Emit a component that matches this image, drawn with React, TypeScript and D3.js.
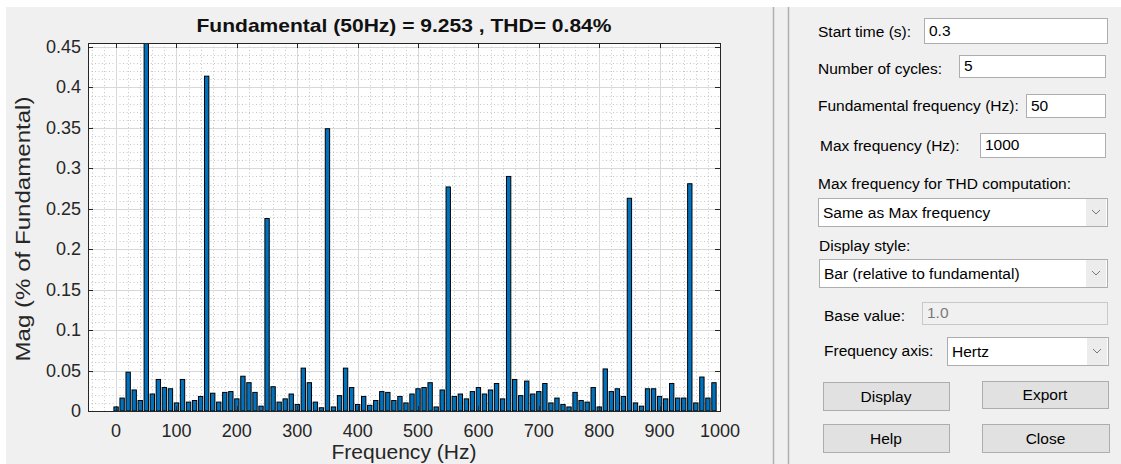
import React from 'react';
import * as d3 from 'd3';

// spectrum bins, 10 Hz apart, 0 .. 990 Hz (fundamental at 50 Hz = 100 %)
const binHz = 10;
const magnitudes = [
  0.005, 0.016, 0.048, 0.026, 0.013, 100, 0.021, 0.039, 0.029, 0.0275,
  0.010, 0.039, 0.011, 0.013, 0.018, 0.414, 0.022, 0.011, 0.023, 0.024,
  0.015, 0.043, 0.035, 0.023, 0.006, 0.238, 0.030, 0.011, 0.015, 0.021,
  0.008, 0.053, 0.035, 0.011, 0.004, 0.349, 0.005, 0.019, 0.053, 0.029,
  0.008, 0.018, 0.007, 0.013, 0.024, 0.023, 0.013, 0.018, 0.010, 0.021,
  0.0275, 0.029, 0.035, 0.005, 0.026, 0.277, 0.018, 0.021, 0.015, 0.024,
  0.029, 0.021, 0.026, 0.034, 0.015, 0.290, 0.039, 0.019, 0.037, 0.021,
  0.024, 0.034, 0.010, 0.016, 0.008, 0.005, 0.023, 0.013, 0.011, 0.029,
  0.005, 0.052, 0.024, 0.0275, 0.018, 0.263, 0.010, 0.006, 0.0275, 0.0275,
  0.018, 0.015, 0.034, 0.016, 0.016, 0.281, 0.010, 0.042, 0.016, 0.035
];
const xTicks = [0, 100, 200, 300, 400, 500, 600, 700, 800, 900, 1000];
const yTicks = [0, 0.05, 0.1, 0.15, 0.2, 0.25, 0.3, 0.35, 0.4, 0.45];
const title = 'Fundamental (50Hz) = 9.253 , THD= 0.84%';

const W = 1121, H = 464;
const plot = { left: 88, right: 720, top: 43, bottom: 411 };
const axisFont = '"Liberation Sans", Arial, sans-serif';
const uiFont = '"Liberation Sans", Arial, sans-serif';
const ink = '#262626';
const uiSize = 15.5;

function TextBox({ x, y, w, h, value, disabled }: any) {
  return (
    <g>
      <rect x={x + 0.5} y={y + 0.5} width={w} height={h} fill={disabled ? '#f0f0f0' : '#fff'} stroke={disabled ? '#c8c8c8' : '#adadad'} />
      <text x={x + 5} y={y + h / 2 + 5} fontSize={uiSize} fill={disabled ? '#7a7a7a' : '#000'}>{value}</text>
    </g>
  );
}

function DropDown({ x, y, w, h, value }: any) {
  const ax = x + w - 21;
  const cy = y + h / 2;
  return (
    <g>
      <rect x={x + 0.5} y={y + 0.5} width={w} height={h} fill="#fff" stroke="#adadad" />
      <rect x={ax} y={y + 1} width={20} height={h - 1} fill="#ececec" />
      <path d={`M${ax + 6},${cy - 2} L${ax + 10},${cy + 2} L${ax + 14},${cy - 2}`} fill="none" stroke="#777" strokeWidth={1} />
      <text x={x + 5} y={cy + 5.5} fontSize={uiSize} fill="#000">{value}</text>
    </g>
  );
}

function Button({ x, y, w, h, label }: any) {
  return (
    <g>
      <rect x={x + 0.5} y={y + 0.5} width={w} height={h} fill="#e1e1e1" stroke="#adadad" />
      <text x={x + w / 2} y={y + h / 2 + 5.5} fontSize={uiSize} textAnchor="middle" fill="#000">{label}</text>
    </g>
  );
}

export default function App() {
  const x = d3.scaleLinear().domain([-46.5, 1000]).range([plot.left, plot.right]);
  const y = d3.scaleLinear().domain([0, 0.455]).range([plot.bottom, plot.top]);
  const barW = (x(binHz) - x(0)) * 0.72;

  const minorX = d3.range(-40, 1000, 20).filter(v => v % 100 !== 0);
  const minorY = d3.range(1, 46).map(v => v / 100).filter(v => Math.round(v * 100) % 5 !== 0);

  const fmt = (v: number) => String(+v.toFixed(2));
  const cx = (plot.left + plot.right) / 2;

  return (
    <div style={{ position: 'absolute', left: 0, top: 0 }}>
      <svg width={W} height={H} style={{ display: 'block' }}>
        <rect width={W} height={H} fill="#fff" />
        <rect x={6} y={7} width={W - 6} height={H - 7} fill="#f0f0f0" />
        <line x1={773.5} x2={773.5} y1={7} y2={H} stroke="#b0b0b0" strokeWidth={1.5} />
        <line x1={788.5} x2={788.5} y1={7} y2={H} stroke="#b0b0b0" strokeWidth={1.5} />

        <defs>
          <clipPath id="plotClip">
            <rect x={plot.left} y={plot.top} width={plot.right - plot.left} height={plot.bottom - plot.top} />
          </clipPath>
        </defs>

        {/* axes */}
        <rect x={plot.left} y={plot.top} width={plot.right - plot.left} height={plot.bottom - plot.top} fill="#fff" />
        <g stroke="#b8b8b8" strokeWidth={0.8} strokeDasharray="1 2.5">
          {minorX.map(v => (
            <line key={'mx' + v} x1={Math.round(x(v)) + 0.5} x2={Math.round(x(v)) + 0.5} y1={plot.top} y2={plot.bottom} />
          ))}
          {minorY.map(v => (
            <line key={'my' + v} x1={plot.left} x2={plot.right} y1={Math.round(y(v)) + 0.5} y2={Math.round(y(v)) + 0.5} />
          ))}
        </g>
        <g stroke="#d8d8d8" strokeWidth={1}>
          {xTicks.map(v => (
            <line key={'gx' + v} x1={Math.round(x(v)) + 0.5} x2={Math.round(x(v)) + 0.5} y1={plot.top} y2={plot.bottom} />
          ))}
          {yTicks.map(v => (
            <line key={'gy' + v} x1={plot.left} x2={plot.right} y1={Math.round(y(v)) + 0.5} y2={Math.round(y(v)) + 0.5} />
          ))}
        </g>

        <g clipPath="url(#plotClip)">
          {magnitudes.map((m, i) => {
            const f = i * binHz;
            const top = Math.max(y(m), plot.top - 5);
            return (
              <rect key={f} x={x(f) - barW / 2} y={top} width={barW} height={y(0) - top}
                fill="#0072bd" stroke="#000" strokeWidth={1} />
            );
          })}
        </g>

        <rect x={plot.left + 0.5} y={plot.top + 0.5} width={plot.right - plot.left} height={plot.bottom - plot.top}
          fill="none" stroke={ink} strokeWidth={1} />
        <g stroke={ink} strokeWidth={1}>
          {xTicks.map(v => (
            <g key={'tx' + v}>
              <line x1={Math.round(x(v)) + 0.5} x2={Math.round(x(v)) + 0.5} y1={plot.bottom} y2={plot.bottom - 5} />
              <line x1={Math.round(x(v)) + 0.5} x2={Math.round(x(v)) + 0.5} y1={plot.top} y2={plot.top + 5} />
            </g>
          ))}
          {yTicks.map(v => (
            <g key={'ty' + v}>
              <line x1={plot.left} x2={plot.left + 5} y1={Math.round(y(v)) + 0.5} y2={Math.round(y(v)) + 0.5} />
              <line x1={plot.right} x2={plot.right - 5} y1={Math.round(y(v)) + 0.5} y2={Math.round(y(v)) + 0.5} />
            </g>
          ))}
        </g>

        <g fontFamily={axisFont} fontSize={18} fill={ink}>
          {xTicks.map(v => (
            <text key={'lx' + v} x={x(v)} y={437} textAnchor="middle">{v}</text>
          ))}
          {yTicks.map(v => (
            <text key={'ly' + v} x={81} y={y(v) + 6} textAnchor="end">{fmt(v)}</text>
          ))}
          <text x={cx} y={459} textAnchor="middle" fontSize={19.5} textLength={145} lengthAdjust="spacingAndGlyphs">Frequency (Hz)</text>
          <text transform={`translate(30,${(plot.top + plot.bottom) / 2 + 2}) rotate(-90)`} textAnchor="middle" fontSize={19.5}
            textLength={265} lengthAdjust="spacingAndGlyphs">Mag (% of Fundamental)</text>
          <text x={cx} y={32} textAnchor="middle" fontWeight="bold" fontSize={18.5} fill="#111"
            textLength={415} lengthAdjust="spacingAndGlyphs">{title}</text>
        </g>

        {/* settings panel */}
        <g fontFamily={uiFont} fontSize={uiSize} fill="#000">
          <text x={818} y={37}>Start time (s):</text>
          <TextBox x={924} y={18} w={183} h={25} value="0.3" />
          <text x={818} y={74}>Number of cycles:</text>
          <TextBox x={959} y={55} w={146} h={22} value="5" />
          <text x={818} y={111}>Fundamental frequency (Hz):</text>
          <TextBox x={1026} y={94} w={79} h={23} value="50" />
          <text x={820} y={151}>Max frequency (Hz):</text>
          <TextBox x={980} y={133} w={125} h={24} value="1000" />
          <text x={818} y={189}>Max frequency for THD computation:</text>
          <DropDown x={818} y={198} w={289} h={28} value="Same as Max frequency" />
          <text x={819} y={251}>Display style:</text>
          <DropDown x={819} y={259} w={288} h={28} value="Bar (relative to fundamental)" />
          <text x={824} y={321}>Base value:</text>
          <TextBox x={922} y={302} w={185} h={22} value="1.0" disabled />
          <text x={824} y={356}>Frequency axis:</text>
          <DropDown x={947} y={337} w={161} h={28} value="Hertz" />
          <Button x={823} y={382} w={126} h={28} label="Display" />
          <Button x={982} y={381} w={126} h={27} label="Export" />
          <Button x={823} y={424} w={126} h={28} label="Help" />
          <Button x={982} y={424} w={127} h={28} label="Close" />
        </g>
      </svg>
    </div>
  );
}
